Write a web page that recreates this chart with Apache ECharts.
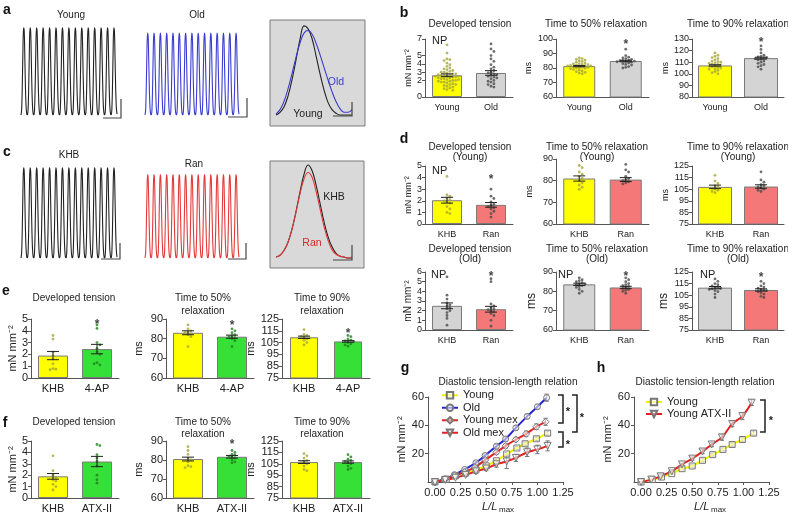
<!DOCTYPE html>
<html><head><meta charset="utf-8">
<script src="https://cdn.jsdelivr.net/npm/echarts@6/dist/echarts.min.js"></script>
<style>html,body{margin:0;padding:0;background:#fff}#c{width:788px;height:517px}</style>
</head><body><div id="c"></div>
<script>
// ================= DATA =================
// a / c : twitch traces (one measured beat, normalised, repeated beatCount times)
const beatShape = [0.0, 0.06, 0.32, 0.72, 0.97, 0.93, 0.62, 0.28, 0.08, 0.01];
const beatCount = 15;
const ampYoung = 1.0, ampOld = 0.94, ampKHB = 1.0, ampRan = 0.925;
// single averaged twitch (% of Young / KHB peak)
const overlayTime = [0,4,8,12,16,20,24,28,32,36,40,44,48,52,56,60,64,68,72,76];
const twitchYoung = [0,3,9,21,39,61,84,99,96,85,66,46,28,14,6,2,0,0,0,0];
const twitchOld   = [1,6,15,29,46,64,80,91,94,90,80,67,53,39,26,15,7,3,3,6];
const twitchKHB   = [1,3,8,17,31,50,71,90,100,94,79,59,39,23,12,5,2,1,0,0];
const twitchRan   = [1,3,8,17,31,49,69,85,92,87,72,53,34,19,9,4,2,1,0,1];

// b : Young vs Old
const bCats = ['Young', 'Old'];
const b1Mean = [2.62, 2.9], b1Sem = [0.17, 0.28];
const b1Young = [6.3,5.3,4.6,4.5,4.4,4.1,3.9,3.7,3.5,3.4,3.3,3.2,3.1,3.0,3.0,2.9,2.8,2.8,2.7,2.7,2.6,2.6,2.5,2.5,2.5,2.4,2.4,2.3,2.3,2.2,2.2,2.1,2.1,2.0,2.0,1.9,1.9,1.8,1.8,1.7,1.6,1.5,1.5,1.4,1.3,1.2,1.1,1.0,0.9,0.8];
const b1Old = [6.4,5.8,5.5,5.0,4.6,4.3,3.9,3.6,3.4,3.2,3.0,2.9,2.8,2.7,2.6,2.5,2.4,2.3,2.2,2.0,1.9,1.8,1.6,1.5,1.3,1.2];
const b2Mean = [81.3, 84.8], b2Sem = [0.4, 0.5];
const b2Young = [87,86.5,86,85.5,85,84.5,84,83.5,83,82.8,82.5,82.3,82,81.8,81.6,81.5,81.4,81.3,81.2,81,80.9,80.8,80.6,80.5,80.3,80,79.8,79.5,79,78.5,78,77.5,77,76.5,76];
const b2Old = [93,88.5,87.5,87,86.5,86,85.5,85.2,85,84.8,84.5,84.3,84,83.5,83,82.5,82,81,80.5,80];
const b2Star = 98;
const b3Mean = [107.2, 113.5], b3Sem = [0.6, 0.8];
const b3Young = [118,116,115,114,113,112,111,110.5,110,109.5,109,108.5,108,107.5,107,106.5,106,105.5,105,104.5,104,103,102,101,100];
const b3Old = [124,121,118,116,115,114.5,114,113.5,113,112.5,112,111,110,109,108,107,106,104];
const b3Star = 129;

// d : KHB vs Ran
const dCats = ['KHB', 'Ran'];
const d1Mean = [2.05, 1.65], d1Sem = [0.25, 0.2];
const d1KHB = [4.1,2.5,2.4,2.2,2.1,2.0,1.9,1.8,1.5,1.3,1.0,0.9];
const d1Ran = [3.0,2.4,2.2,1.9,1.7,1.6,1.5,1.4,1.3,1.1,0.9,0.6];
const d1Star = 4.05;
const d2Mean = [81.0, 80.5], d2Sem = [1.2, 0.9];
const d2KHB = [87,86,84,83,82,81,80,79,78,77,76];
const d2Ran = [87.5,85,84,82,81,80.5,80,79.5,79,78.5];
const d3Mean = [107.0, 107.3], d3Sem = [1.5, 1.5];
const d3KHB = [117,112,110,108,107,106,105,104,103,102];
const d3Ran = [120,113,111,109,108,107,106,105,104,103];
const d4Mean = [2.5, 2.15], d4Sem = [0.3, 0.3];
const d4KHB = [5.5,3.6,3.2,2.8,2.6,2.5,2.3,2.2,2.0,1.8,1.5,1.2,0.5];
const d4Ran = [5.3,5.0,2.7,2.5,2.3,2.2,2.1,2.0,1.9,1.7,1.5,1.0,0.4];
const d4Star = 5.8;
const d5Mean = [83.6, 82.0], d5Sem = [0.6, 0.6];
const d5KHB = [87,86,85.5,85,84.5,84,83.8,83.5,83,82.5,82,81,80,79];
const d5Ran = [87,86,85,84,83.5,83,82.5,82,81.5,81,80.5,80,79];
const d5Star = 89;
const d6Mean = [111.5, 109.5], d6Sem = [1.0, 1.0];
const d6KHB = [119,117,115,114,113,112,111.5,111,110.5,110,109,108,106,103];
const d6Ran = [117,115,113,112,111,110,109.5,109,108,107,106,104,103];
const d6Star = 123;

// e : KHB vs 4-AP
const eCats = ['KHB', '4-AP'];
const e1Mean = [1.9, 2.45], e1Sem = [0.35, 0.4];
const e1KHB = [3.6,3.3,2.2,1.9,1.6,1.2,0.8,0.75,0.7];
const e1AP = [4.5,4.2,3.0,2.8,2.5,2.2,2.0,1.3,1.1,1.2];
const e1Star = 4.75;
const e2Mean = [83.0, 81.0], e2Sem = [1.0, 0.8];
const e2KHB = [87,85,84,83.5,83,82.5,82,81,76];
const e2AP = [85,84,83,82,81.5,81,80.5,80,79,76];
const e2Star = 88;
const e3Mean = [109.5, 106.0], e3Sem = [1.0, 0.7];
const e3KHB = [116,112,111,110,109.5,109,108,107,105,103];
const e3AP = [111,110,108,107,106.5,106,105,104,103,102];
const e3Star = 115.4;

// f : KHB vs ATX-II
const fCats = ['KHB', 'ATX-II'];
const f1Mean = [1.9, 3.2], f1Sem = [0.25, 0.45];
const f1KHB = [3.7,2.4,2.0,1.8,1.6,1.5,1.2,1.0,0.7];
const f1ATX = [4.7,4.6,3.8,3.5,3.2,2.8,2.0,1.6,1.3];
const f1Star = 5.15;
const f2Mean = [80.5, 81.7], f2Sem = [1.0, 0.7];
const f2KHB = [87,85,83,81,80,79,77,76.5,76];
const f2ATX = [85,84,83,82.5,82,81.5,81,80,79,78.5];
const f2Star = 89.6;
const f3Mean = [106.5, 106.5], f3Sem = [1.2, 1.0];
const f3KHB = [114,112,110,108,107,106,105,103,100,99];
const f3ATX = [113,111,109,108,107,106,105,103,101,100];

// g / h : diastolic tension-length relation (L/Lmax, mN mm^-2)
const gYoungX = [0,0.11,0.2,0.3,0.4,0.5,0.6,0.7,0.8,0.88,0.99,1.1];
const gYoungY = [0,2,4.5,6.3,8.6,11.4,15,19.8,24,27,30.5,34.5];
const gYoungE = [0,0.3,0.5,0.5,0.8,0.8,1,1,1,1.2,1.2,1.5];
const gOldX = [0,0.09,0.19,0.29,0.4,0.49,0.6,0.69,0.79,0.9,1.0,1.09];
const gOldY = [0,1.9,5.2,8.9,13.6,18.7,25.3,30.4,38.2,46.3,53.1,59.5];
const gOldE = [0,0.5,0.5,0.8,1,1,1.2,1.5,1.5,1.5,1.5,2.5];
const gYmexX = [0,0.1,0.19,0.29,0.39,0.49,0.6,0.69,0.79,0.89,0.99,1.08];
const gYmexY = [0,2,4.5,7,10.5,15.5,21,25.5,30,34,39,42.5];
const gYmexE = [0,0.5,0.5,0.8,1,1,1.5,1.5,1.5,2,2,2.5];
const gOmexX = [0,0.1,0.2,0.3,0.4,0.5,0.6,0.7,0.79,0.9,1.0,1.1];
const gOmexY = [0,1.5,3,5,7.5,9.5,12.5,14.5,17,21,23,25.5];
const gOmexE = [0,0.5,0.8,1,1.5,1.5,2,5,2.5,3,3,3.5];
const hYoungX = [0,0.11,0.2,0.3,0.4,0.5,0.6,0.7,0.8,0.89,0.99,1.1];
const hYoungY = [0,1.7,3.5,5.9,9.4,11.3,15.3,19.3,23,26.5,30,34.5];
const hYoungE = [0,0.3,0.5,0.5,0.8,0.8,1,1,1,1.2,1.2,1.5];
const hATXX = [0,0.1,0.19,0.3,0.4,0.5,0.6,0.69,0.79,0.89,0.99,1.08];
const hATXY = [0,1.7,4,7.6,12.4,16.5,21.5,26.5,31.5,41,46.5,56];
const hATXE = [0,0.5,0.5,1,1,1.2,1.5,1.5,2,2,2.5,2];
const xTicksDTL = [0,0.25,0.5,0.75,1.0,1.25];

// ================= BUILD =================
const FONT = "'Liberation Sans', Arial, sans-serif";
const TXT = '#222', AX = '#555';
const grids = [], xAxes = [], yAxes = [], series = [], graphics = [];

function text(t, x, y, o) {
  o = o || {};
  graphics.push({type:'text', x:x, y:y, silent:true, z:50,
    style:{text:t, fill:o.color||TXT, font:(o.style||'normal')+' '+(o.weight||'normal')+' '+(o.size||10)+'px '+FONT,
      textAlign:o.align||'center', textVerticalAlign:'middle', lineHeight:o.lh}});
}
function poly(pts, color, w) {
  graphics.push({type:'polyline', silent:true, z:50, shape:{points:pts}, style:{stroke:color||'#444', lineWidth:w||1.2, fill:null}});
}

function tracePanel(box, amp, color) {
  const gi = grids.push({left:box.x, top:box.y, width:box.w, height:box.h}) - 1;
  const n = beatShape.length * beatCount;
  const xi = xAxes.push({gridIndex:gi, type:'value', min:0, max:n-1, show:false}) - 1;
  const yi = yAxes.push({gridIndex:gi, type:'value', min:0, max:1, show:false}) - 1;
  const data = [];
  for (let b = 0; b < beatCount; b++) beatShape.forEach((v,k) => data.push([b*beatShape.length+k, v*amp]));
  series.push({type:'line', xAxisIndex:xi, yAxisIndex:yi, data:data, showSymbol:false, smooth:0.35,
    lineStyle:{color:color, width:1.1}, silent:true});
}

function overlayPanel(box, base, peak, t0, curves) {
  const ppu = (base - peak) / 100;
  const ymin = -((box.y + box.h) - base) / ppu;
  const ymax = 100 + (peak - box.y) / ppu;
  const xmin = -(t0 - box.x);
  const gi = grids.push({left:box.x, top:box.y, width:box.w, height:box.h, show:true,
    backgroundColor:'#d9d9d9', borderColor:'#7a7a7a', borderWidth:1}) - 1;
  const xi = xAxes.push({gridIndex:gi, type:'value', min:xmin, max:xmin+box.w, show:false}) - 1;
  const yi = yAxes.push({gridIndex:gi, type:'value', min:ymin, max:ymax, show:false}) - 1;
  curves.forEach(c => series.push({type:'line', xAxisIndex:xi, yAxisIndex:yi, showSymbol:false, smooth:0.4,
    data:overlayTime.map((t,i) => [t, c.data[i]]), lineStyle:{color:c.color, width:1.1}, silent:true, z:c.z||2}));
}

function errRender(cap, color, lw) {
  return function(params, api) {
    const x = api.value(0);
    const a = api.coord([x, api.value(1)]), b = api.coord([x, api.value(2)]);
    const st = {stroke:color, lineWidth:lw};
    return {type:'group', children:[
      {type:'line', shape:{x1:a[0], y1:a[1], x2:b[0], y2:b[1]}, style:st},
      {type:'line', shape:{x1:a[0]-cap, y1:a[1], x2:a[0]+cap, y2:a[1]}, style:st},
      {type:'line', shape:{x1:b[0]-cap, y1:b[1], x2:b[0]+cap, y2:b[1]}, style:st}]};
  };
}

// beeswarm placement of dots inside a bar (layout only, values untouched)
function swarm(vals, thr, step, maxOff) {
  const placed = [];
  return vals.map(v => {
    for (let k = 0; k < 60; k++) {
      const s = (k === 0 ? 0 : (k % 2 ? 1 : -1) * Math.ceil(k / 2)) * step;
      if (Math.abs(s) > maxOff) continue;
      if (!placed.some(p => Math.abs(p.v - v) < thr && Math.abs(p.s - s) < step * 0.9)) {
        placed.push({v:v, s:s}); return s;
      }
    }
    placed.push({v:v, s:0}); return 0;
  });
}

function barPanel(p) {
  const gi = grids.push({left:p.left, top:p.top, width:p.width, height:p.height}) - 1;
  const xc = xAxes.push({gridIndex:gi, type:'category', data:p.cats, axisTick:{show:false},
    axisLine:{show:true, onZero:false, lineStyle:{color:AX}}, splitLine:{show:false},
    axisLabel:{fontSize:p.fs, color:TXT, margin:p.lm, fontFamily:FONT}}) - 1;
  const xv = xAxes.push({gridIndex:gi, type:'value', min:-0.5, max:1.5, show:false}) - 1;
  const yi = yAxes.push({gridIndex:gi, type:'value', min:p.ymin, max:p.ymax, interval:p.interval,
    name:p.yname, nameLocation:'middle', nameGap:p.ng,
    nameTextStyle:{fontSize:p.nfs, color:TXT, fontFamily:FONT},
    axisLine:{show:true, onZero:false, lineStyle:{color:AX}}, axisTick:{show:true, length:3, lineStyle:{color:AX}},
    axisLabel:{fontSize:p.fs, color:TXT, margin:3, fontFamily:FONT, lineHeight:6, showMinLabel:true, showMaxLabel:true, hideOverlap:false},
    splitLine:{show:false}}) - 1;
  series.push({type:'bar', xAxisIndex:xc, yAxisIndex:yi, barWidth:p.bw, silent:true, z:1,
    data:p.means.map((m,i) => ({value:m, itemStyle:{color:p.fills[i], borderColor:'#7a7a7a', borderWidth:1}}))});
  const catPx = p.width / 2;                         // px per category unit
  const valPx = p.height / (p.ymax - p.ymin);        // px per value unit
  p.dots.forEach((arr, i) => {
    const j = swarm(arr, 2.6 / valPx, 2.9 / catPx, (p.bw / 2 - 2) / catPx);
    series.push({type:'scatter', xAxisIndex:xv, yAxisIndex:yi, symbolSize:2.8, silent:true, z:3,
      itemStyle:{color:p.dotColors[i]}, data:arr.map((v,k) => [i + j[k], v])});
  });
  series.push({type:'custom', xAxisIndex:xv, yAxisIndex:yi, silent:true, z:4, encode:{x:0, y:[1,2]},
    renderItem:errRender(p.cap || 6, '#222', 1),
    data:p.means.map((m,i) => [i, m - p.sems[i], m + p.sems[i]])});
  if (p.star != null) series.push({type:'scatter', xAxisIndex:xv, yAxisIndex:yi, symbolSize:1, silent:true, z:5,
    itemStyle:{color:'rgba(0,0,0,0)'},
    label:{show:true, position:'inside', formatter:'*', fontSize:12, fontWeight:'bold', color:'#111', offset:[0,3], fontFamily:FONT},
    data:[[1, p.star]]});
}

function dtlPanel(p) {
  const gi = grids.push({left:p.left, top:p.top, width:p.width, height:p.height}) - 1;
  const xi = xAxes.push({gridIndex:gi, type:'value', min:p.xmin, max:1.25,
    axisLine:{show:true, onZero:false, lineStyle:{color:AX}},
    axisTick:{show:true, length:3, customValues:xTicksDTL, lineStyle:{color:AX}},
    axisLabel:{customValues:xTicksDTL, formatter:v => v.toFixed(2), fontSize:11, color:TXT, margin:5, fontFamily:FONT},
    splitLine:{show:false}}) - 1;
  const yi = yAxes.push({gridIndex:gi, type:'value', min:0, max:60, interval:20,
    name:'mN mm\u207B\u00B2', nameLocation:'middle', nameGap:p.ng,
    nameTextStyle:{fontSize:11, color:TXT, fontFamily:FONT},
    axisLine:{show:true, onZero:false, lineStyle:{color:AX}}, axisTick:{show:true, length:3, lineStyle:{color:AX}},
    axisLabel:{showMinLabel:false, showMaxLabel:true, fontSize:11, color:TXT, margin:4, fontFamily:FONT},
    splitLine:{show:false}}) - 1;
  p.groups.forEach(g => {
    series.push({type:'custom', xAxisIndex:xi, yAxisIndex:yi, silent:true, z:2, encode:{x:0, y:[1,2]},
      renderItem:errRender(2.2, '#777', 1),
      data:g.xs.map((x,i) => [x, g.ys[i] - g.es[i], g.ys[i] + g.es[i]])});
    series.push({type:'line', name:g.name, xAxisIndex:xi, yAxisIndex:yi, silent:true, z:3,
      data:g.xs.map((x,i) => [x, g.ys[i]]), smooth:0.3, symbol:g.symbol, symbolSize:g.size || 6,
      symbolRotate:g.rot || 0, showSymbol:true,
      itemStyle:{color:'rgba(255,255,255,0.55)', borderColor:'#777', borderWidth:1},
      lineStyle:{color:g.color, width:2}});
  });
}

// ---- layout ----
const YEL = '#ffff00', GRY = '#d4d4d4', SAL = '#f47878', GRN = '#36e036';
const dYel = '#a5a53a', dGry = '#4a4a4a', dSal = '#4a4a4a', dGrn = '#1f7f1f';
const R1 = {left:425, width:88, bw:30}, R2 = {left:556, width:93, bw:32}, R3 = {left:692, width:92, bw:34};
const L1 = {left:31, width:88, bw:30}, L2 = {left:166, width:88, bw:30}, L3 = {left:282, width:88, bw:28};
const MN = 'mN mm\u207B\u00B2';

// a & c traces
tracePanel({x:21, y:25, w:96, h:90}, ampYoung, '#222');
tracePanel({x:145, y:25, w:94, h:90}, ampOld, '#3c3cd2');
tracePanel({x:21, y:165, w:96, h:93}, ampKHB, '#222');
tracePanel({x:145, y:165, w:94, h:93}, ampRan, '#e43a3a');
overlayPanel({x:270, y:20, w:95, h:106}, 115, 25, 276,
  [{data:twitchYoung, color:'#222'}, {data:twitchOld, color:'#3c3cd2', z:3}]);
overlayPanel({x:270, y:161, w:94, h:107}, 258, 165, 276,
  [{data:twitchKHB, color:'#222'}, {data:twitchRan, color:'#e43a3a', z:3}]);

// b
barPanel(Object.assign({}, R1, {top:39, height:58, ymin:0, ymax:7, interval:1, cats:bCats, means:b1Mean, sems:b1Sem,
  dots:[b1Young, b1Old], fills:[YEL, GRY], dotColors:[dYel, dGry], yname:MN, ng:11, nfs:9, fs:9, lm:6}));
barPanel(Object.assign({}, R2, {top:39, height:58, ymin:60, ymax:100, interval:10, cats:bCats, means:b2Mean, sems:b2Sem,
  dots:[b2Young, b2Old], fills:[YEL, GRY], dotColors:[dYel, dGry], star:b2Star, yname:'ms', ng:23, nfs:9, fs:9, lm:6}));
barPanel(Object.assign({}, R3, {top:39, height:58, ymin:80, ymax:130, interval:10, cats:bCats, means:b3Mean, sems:b3Sem,
  dots:[b3Young, b3Old], fills:[YEL, GRY], dotColors:[dYel, dGry], star:b3Star, yname:'ms', ng:20, nfs:9, fs:9, lm:6}));
// d top (Young)
barPanel(Object.assign({}, R1, {top:166, height:58, ymin:0, ymax:5, interval:1, cats:dCats, means:d1Mean, sems:d1Sem,
  dots:[d1KHB, d1Ran], fills:[YEL, SAL], dotColors:[dYel, dSal], star:d1Star, yname:MN, ng:11, nfs:9, fs:9, lm:6}));
barPanel(Object.assign({}, R2, {top:159, height:65, ymin:60, ymax:90, interval:10, cats:dCats, means:d2Mean, sems:d2Sem,
  dots:[d2KHB, d2Ran], fills:[YEL, SAL], dotColors:[dYel, dSal], yname:'ms', ng:22, nfs:9, fs:9, lm:6}));
barPanel(Object.assign({}, R3, {top:166, height:58, ymin:75, ymax:125, interval:10, cats:dCats, means:d3Mean, sems:d3Sem,
  dots:[d3KHB, d3Ran], fills:[YEL, SAL], dotColors:[dYel, dSal], yname:'ms', ng:20, nfs:9, fs:9, lm:6}));
// d bottom (Old)
barPanel(Object.assign({}, R1, {top:272, height:58, ymin:0, ymax:6, interval:1, cats:dCats, means:d4Mean, sems:d4Sem,
  dots:[d4KHB, d4Ran], fills:[GRY, SAL], dotColors:[dGry, dSal], star:d4Star, yname:MN, ng:11, nfs:10, fs:9, lm:6}));
barPanel(Object.assign({}, R2, {top:272, height:58, ymin:60, ymax:90, interval:10, cats:dCats, means:d5Mean, sems:d5Sem,
  dots:[d5KHB, d5Ran], fills:[GRY, SAL], dotColors:[dGry, dSal], star:d5Star, yname:'ms', ng:18, nfs:12, fs:9, lm:6}));
barPanel(Object.assign({}, R3, {top:272, height:58, ymin:75, ymax:125, interval:10, cats:dCats, means:d6Mean, sems:d6Sem,
  dots:[d6KHB, d6Ran], fills:[GRY, SAL], dotColors:[dGry, dSal], star:d6Star, yname:'ms', ng:19, nfs:12, fs:9, lm:6}));
// e
barPanel(Object.assign({}, L1, {top:319, height:59, ymin:0, ymax:5, interval:1, cats:eCats, means:e1Mean, sems:e1Sem,
  dots:[e1KHB, e1AP], fills:[YEL, GRN], dotColors:[dYel, dGrn], star:e1Star, yname:MN, ng:12, nfs:11, fs:11, lm:5}));
barPanel(Object.assign({}, L2, {top:319, height:59, ymin:60, ymax:90, interval:10, cats:eCats, means:e2Mean, sems:e2Sem,
  dots:[e2KHB, e2AP], fills:[YEL, GRN], dotColors:[dYel, dGrn], star:e2Star, yname:'ms', ng:22, nfs:11, fs:11, lm:5}));
barPanel(Object.assign({}, L3, {top:319, height:59, ymin:75, ymax:125, interval:10, cats:eCats, means:e3Mean, sems:e3Sem,
  dots:[e3KHB, e3AP], fills:[YEL, GRN], dotColors:[dYel, dGrn], star:e3Star, yname:'ms', ng:16, nfs:11, fs:11, lm:5}));
// f
barPanel(Object.assign({}, L1, {top:441, height:57, ymin:0, ymax:5, interval:1, cats:fCats, means:f1Mean, sems:f1Sem,
  dots:[f1KHB, f1ATX], fills:[YEL, GRN], dotColors:[dYel, dGrn], star:f1Star, yname:MN, ng:12, nfs:11, fs:11, lm:5}));
barPanel(Object.assign({}, L2, {top:441, height:57, ymin:60, ymax:90, interval:10, cats:fCats, means:f2Mean, sems:f2Sem,
  dots:[f2KHB, f2ATX], fills:[YEL, GRN], dotColors:[dYel, dGrn], star:f2Star, yname:'ms', ng:22, nfs:11, fs:11, lm:5}));
barPanel(Object.assign({}, L3, {top:441, height:57, ymin:75, ymax:125, interval:10, cats:fCats, means:f3Mean, sems:f3Sem,
  dots:[f3KHB, f3ATX], fills:[YEL, GRN], dotColors:[dYel, dGrn], yname:'ms', ng:16, nfs:11, fs:11, lm:5}));

// g & h
dtlPanel({left:428, top:397, width:135, height:85, xmin:-0.068, ng:14, groups:[
  {name:'Young', xs:gYoungX, ys:gYoungY, es:gYoungE, color:'#f2f200', symbol:'rect', size:6},
  {name:'Old', xs:gOldX, ys:gOldY, es:gOldE, color:'#2424d8', symbol:'circle', size:6},
  {name:'Young mex', xs:gYmexX, ys:gYmexY, es:gYmexE, color:'#e42020', symbol:'diamond', size:7},
  {name:'Old mex', xs:gOmexX, ys:gOmexY, es:gOmexE, color:'#e42020', symbol:'triangle', size:7, rot:180}]});
dtlPanel({left:634, top:397, width:135, height:85, xmin:-0.069, ng:14, groups:[
  {name:'Young', xs:hYoungX, ys:hYoungY, es:hYoungE, color:'#f2f200', symbol:'rect', size:6},
  {name:'Young ATX-II', xs:hATXX, ys:hATXY, es:hATXE, color:'#e42020', symbol:'triangle', size:7, rot:180}]});

// ---- texts ----
[['a',7,10],['b',404,13],['c',7,152],['d',404,139],['e',6,291],['f',5,423],['g',405,368],['h',601,368]]
  .forEach(l => text(l[0], l[1], l[2], {size:14, weight:'bold', color:'#111'}));
text('Young', 71, 15, {size:10}); text('Old', 197, 15, {size:10});
text('KHB', 69, 155, {size:10}); text('Ran', 194, 164, {size:10});
text('Old', 336, 82, {size:10.5, color:'#3c3cd2'}); text('Young', 308, 114, {size:10.5});
text('KHB', 334, 197, {size:10.5}); text('Ran', 312, 243, {size:10.5, color:'#d42a2a'});
text('Developed tension', 470, 24); text('Time to 50% relaxation', 596, 24); text('Time to 90% relaxation', 738, 24);
text('Developed tension\n(Young)', 470, 152, {lh:10.5}); text('Time to 50% relaxation\n(Young)', 597, 152, {lh:10.5});
text('Time to 90% relaxation\n(Young)', 738, 152, {lh:10.5});
text('Developed tension\n(Old)', 470, 254, {lh:10.5}); text('Time to 50% relaxation\n(Old)', 597, 254, {lh:10.5});
text('Time to 90% relaxation\n(Old)', 738, 254, {lh:10.5});
text('Developed tension', 74, 298); text('Time to 50%\nrelaxation', 203, 304.5, {lh:12.5});
text('Time to 90%\nrelaxation', 322, 304.5, {lh:12.5});
text('Developed tension', 74, 422); text('Time to 50%\nrelaxation', 203, 428, {lh:12.5});
text('Time to 90%\nrelaxation', 322, 428, {lh:12.5});
text('Diastolic tension-length relation', 508, 382); text('Diastolic tension-length relation', 705, 382);
[[432,41],[432,171],[431,275],[558,275],[700,275]].forEach(p => text('NP', p[0], p[1], {size:11, align:'left'}));
// L/Lmax axis titles
[[482,507],[694,507]].forEach(p => {
  text('L/L', p[0], p[1], {size:11, align:'left', style:'italic'});
  text('max', p[0] + 17, p[1] + 3, {size:8, align:'left'});
});
// scale bars
poly([[103,118],[121,118],[121,99]]); poly([[228,117],[247,117],[247,98]]); poly([[333,116],[352,116],[352,102]]);
poly([[101,259],[120,259],[120,243]]); poly([[228,259],[246,259],[246,243]]); poly([[333,260],[352,260],[352,245]]);
// significance brackets
poly([[558,395],[563,395],[563,423],[558,423]], '#222', 1.5); text('*', 568, 412, {size:11, weight:'bold'});
poly([[572,395],[577,395],[577,432],[572,432]], '#222', 1.5); text('*', 582, 418, {size:11, weight:'bold'});
poly([[558,432],[563,432],[563,447],[558,447]], '#222', 1.5); text('*', 568, 445, {size:11, weight:'bold'});
poly([[760,400],[765,400],[765,432],[760,432]], '#222', 1.5); text('*', 771, 421, {size:11, weight:'bold'});

const chart = echarts.init(document.getElementById('c'), null, {renderer:'canvas'});
chart.setOption({
  animation:false,
  textStyle:{fontFamily:FONT},
  grid:grids, xAxis:xAxes, yAxis:yAxes, series:series, graphic:graphics,
  legend:[
    {left:441, top:389, orient:'vertical', itemGap:0, itemWidth:16, itemHeight:8, padding:0, selectedMode:false,
      data:['Young','Old','Young mex','Old mex'], textStyle:{fontSize:11, color:TXT, lineHeight:12.5, fontFamily:FONT}},
    {left:645, top:396, orient:'vertical', itemGap:0, itemWidth:16, itemHeight:8, padding:0, selectedMode:false,
      data:['Young','Young ATX-II'], textStyle:{fontSize:11, color:TXT, lineHeight:12, fontFamily:FONT}}]
});
</script></body></html>
